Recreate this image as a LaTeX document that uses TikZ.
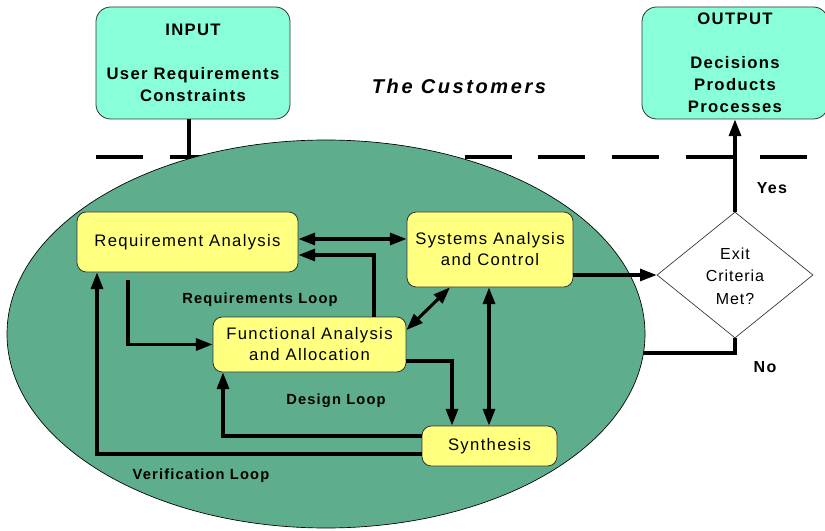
\documentclass[tikz,border=0pt]{standalone}
\usepackage{fontspec}
\setmainfont{Liberation Sans}
\newfontfamily\lsp[LetterSpace=8]{Liberation Sans}
\newfontfamily\lspd[LetterSpace=6]{Liberation Sans}
\newfontfamily\lspw[LetterSpace=13]{Liberation Sans}
\usetikzlibrary{arrows.meta,shapes.geometric,calc}
\definecolor{aqua}{RGB}{136,255,216}
\definecolor{boxyellow}{RGB}{255,255,128}
\definecolor{blobgreen}{RGB}{94,173,140}
\tikzset{
  x=0.75pt,y=-0.75pt,
  iobox/.style={draw=black!80,line width=0.6pt,fill=aqua,rounded corners=11pt,
    minimum width=145.5pt,minimum height=84pt,inner sep=0pt,align=center,
    font=\lsp\bfseries\fontsize{12.5}{16.5}\selectfont},
  procbox/.style={draw=black!80,line width=0.6pt,fill=boxyellow,rounded corners=7pt,
    inner sep=0pt,align=center,font=\lsp\fontsize{12.5}{15.75}\selectfont},
  conn/.style={line width=2.3pt,-{Triangle[length=12.5pt,width=9pt]}},
  bconn/.style={line width=2.3pt,{Triangle[length=12.5pt,width=9pt]}-{Triangle[length=12.5pt,width=9pt]}},
  plain/.style={line width=2.3pt},
  looplabel/.style={font=\lsp\bfseries\fontsize{11}{12}\selectfont},
  ynlabel/.style={font=\lsp\bfseries\fontsize{12}{14}\selectfont},
}
\begin{document}
\begin{tikzpicture}
\useasboundingbox (0,0) rectangle (825,531);
% top boxes
\node[iobox] (inp) at (193,63) {INPUT\\[16.5pt]User Requirements\\Constraints};
\node[iobox,minimum width=139.5pt] (out) at (735,63) {OUTPUT\\[16.5pt]Decisions\\Products\\Processes};
\node[font=\lspw\bfseries\itshape\fontsize{15}{17}\selectfont] (cust) at (459,86) {The Customers};
% dashed boundary
\coordinate (dl) at (96,157);
\coordinate (dr) at (807,157);
\draw[line width=2.4pt,dash pattern=on 35.25pt off 20.06pt] (dl) -- (dr);
% input connector
\coordinate (inpend) at (189,170);
\draw[plain] (inp.south -| inpend) -- (inpend);
% decision diamond
\node[diamond,draw=black!80,line width=0.5pt,fill=white,minimum width=117pt,minimum height=94.5pt,inner sep=0pt] (dia) at (735,275) {};
\node[font=\lspd\fontsize{12}{16.9}\selectfont,align=center] (diat) at (735,276) {Exit\\Criteria\\Met?};
% No branch
\coordinate (noend) at (640,353);
\draw[plain] (dia.south) |- (noend);
% blob
\node[ellipse,draw=black,line width=0.5pt,fill=blobgreen,minimum width=478.5pt,minimum height=291pt,inner sep=0pt] (blob) at (326,334) {};
% process boxes
\node[procbox,minimum width=165.75pt,minimum height=45pt] (req) at (187.5,242) {Requirement Analysis};
\node[procbox,minimum width=124.5pt,minimum height=56.25pt] (sys) at (490,249.5) {Systems Analysis\\and Control};
\node[procbox,minimum width=144.75pt,minimum height=41.25pt] (func) at (309.5,344.5) {Functional Analysis\\and Allocation};
\node[procbox,minimum width=101.25pt,minimum height=30pt] (syn) at (489.5,446) {Synthesis};
% connectors
\draw[conn] (dia.north) -- (out.south);
\draw[conn] (sys.east |- dia.west) -- (dia.west);
\draw[bconn] (req.east |- 0,239) -- (sys.west |- 0,239);
\draw[conn] (func.north -| 374,0) |- (req.east |- 0,255);
\draw[bconn] (func.east |- 0,330) -- (sys.south -| 450,0);
\draw[bconn] (sys.south -| 489,0) -- (syn.north -| 489,0);
\draw[conn] (func.east |- 0,361) -| (syn.north -| 452,0);
\coordinate (rq) at (128,280);
\draw[conn] (rq) |- (func.west);
\draw[conn] (syn.west |- 0,436) -| (func.south -| 223,0);
\draw[conn] (syn.west |- 0,454) -| (req.south -| 97,0);
% labels
\node[looplabel] (lreq) at (260,300) {Requirements Loop};
\node[looplabel] (ldes) at (336,401) {Design Loop};
\node[looplabel] (lver) at (201,476) {Verification Loop};
\node[ynlabel] (yes) at (772,188) {Yes};
\node[ynlabel] (no) at (765,367) {No};
\end{tikzpicture}
\end{document}
